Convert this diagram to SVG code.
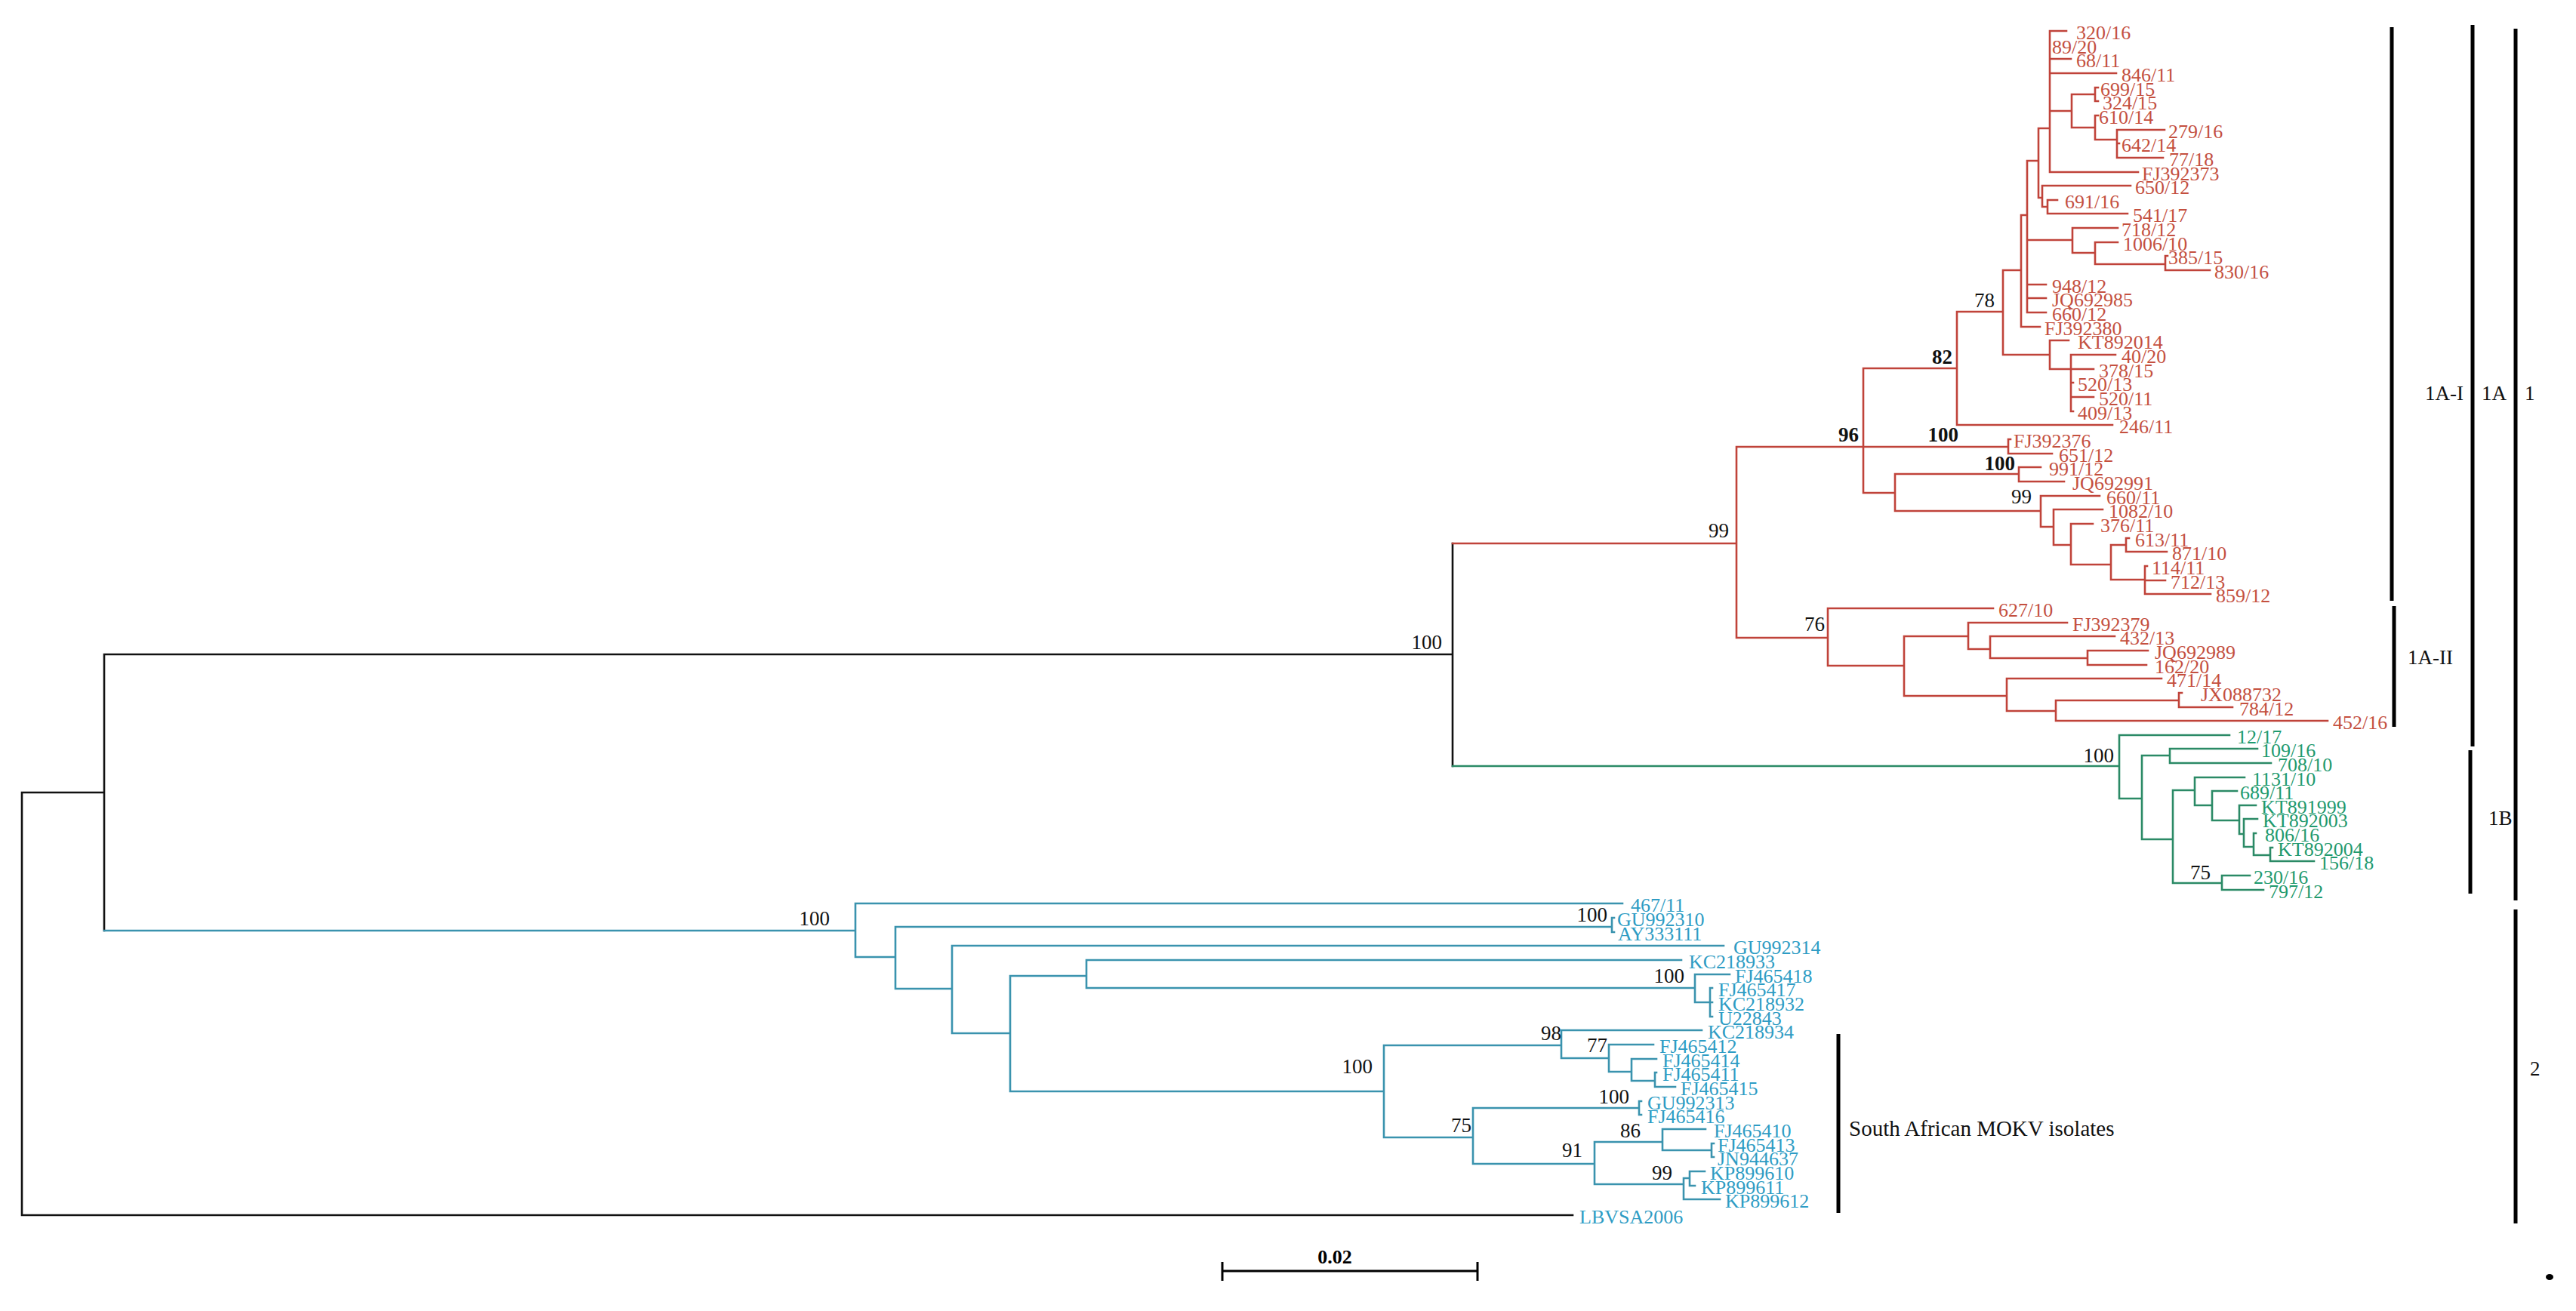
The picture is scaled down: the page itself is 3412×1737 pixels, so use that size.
<svg xmlns="http://www.w3.org/2000/svg" width="3412" height="1737" viewBox="0 0 3412 1737">
<style>
text{font-family:"Liberation Serif","Times New Roman",serif;font-size:26px}
.r{fill:#c4503f}.g{fill:#1f9a6e}.b{fill:#2e9cc4}
.bs{font-size:27px;fill:#111;text-anchor:end}
.bd{font-weight:bold}
.k{font-size:27px;fill:#111}
.ln{fill:none;stroke-width:2.6;stroke-linecap:square}
.br{fill:none;stroke:#000;stroke-width:5}
</style>
<rect width="3412" height="1737" fill="#fff"/>
<g id="connectors">
<path class="ln" stroke="#111" d="M29,1050V1610M29,1610H2083M29,1050H138M138,867V1233M138,867H1924M1924,720V1015"/>
<path class="ln" stroke="#c0433a" d="M1924,720H2300M2300,592V845M2300,592H2468M2300,845H2421
M2468,488V653M2468,488H2592M2468,592H2660M2468,653H2510
M2592,413V563M2592,413H2653M2592,563H2798
M2653,358V470M2653,358H2677M2653,470H2715
M2677,285V433M2677,285H2685M2677,433H2702
M2685,213V414M2685,213H2700M2685,318H2745M2685,377H2710M2685,395H2710M2685,414H2710
M2700,170V262M2700,170H2715M2700,262H2705
M2715,41V228M2715,41H2737M2715,78H2743M2715,97H2803M2715,147H2744M2715,228H2832
M2744,125V169M2744,125H2775M2744,169H2775
M2775,116V134M2775,116H2779M2775,134H2779
M2775,153V185M2775,153H2779M2775,185H2804
M2804,172V209M2804,172H2867M2804,190H2807M2804,209H2865
M2705,246V274M2705,246H2822M2705,274H2712
M2712,265V283M2712,265H2725M2712,283H2818
M2745,302V335M2745,302H2805M2745,335H2775
M2775,321V350M2775,321H2805M2775,350H2868
M2868,339V358M2868,339H2871M2868,358H2927
M2715,451V489M2715,451H2740M2715,489H2743
M2743,470V545M2743,470H2802M2743,489H2773M2743,507H2746M2743,526H2773M2743,545H2746
M2660,582V601M2660,582H2663M2660,601H2718
M2510,628V677M2510,628H2674M2510,677H2703
M2674,619V638M2674,619H2703M2674,638H2734
M2703,657V698M2703,657H2781M2703,698H2720
M2720,675V722M2720,675H2785M2720,722H2743
M2743,694V748M2743,694H2772M2743,748H2796
M2796,722V768M2796,722H2816M2796,768H2841
M2816,713V731M2816,713H2820M2816,731H2870
M2841,750V787M2841,750H2844M2841,769H2868M2841,787H2928
M2421,806V882M2421,806H2640M2421,882H2522
M2522,843V922M2522,843H2607M2522,922H2658
M2607,825V860M2607,825H2738M2607,860H2636
M2636,843V872M2636,843H2801M2636,872H2765
M2765,862V881M2765,862H2845M2765,881H2843
M2658,899V942M2658,899H2863M2658,942H2723
M2723,928V955M2723,928H2886M2723,955H3083
M2886,918V937M2886,918H2890M2886,937H2957"/>
<path class="ln" stroke="#2b8a66" d="M1924,1015H2807M2807,974V1058M2807,974H2953M2807,1058H2837
M2837,1001V1112M2837,1001H2874M2874,992V1011M2874,992H2990M2874,1011H3008
M2837,1112H2878M2878,1047V1170M2878,1047H2907
M2907,1030V1067M2907,1030H2973M2907,1067H2930
M2930,1048V1087M2930,1048H2963M2930,1087H2966
M2966,1067V1105M2966,1067H2988M2966,1105H2972
M2972,1085V1122M2972,1085H2990M2972,1122H2985
M2985,1104V1133M2985,1104H2988M2985,1133H3007
M3007,1123V1141M3007,1123H3010M3007,1141H3065
M2878,1170H2943M2943,1160V1179M2943,1160H2980M2943,1179H2998"/>
<path class="ln" stroke="#3a93ae" d="M138,1233H1133M1133,1197V1268M1133,1197H2149M1133,1268H1186
M1186,1228V1310M1186,1228H2135M2135,1216V1235M2135,1216H2138M2135,1235H2138
M1186,1310H1261M1261,1253V1369M1261,1253H2283M1261,1369H1338
M1338,1293V1446M1338,1293H1439M1439,1272V1309M1439,1272H2227M1439,1309H2245
M2245,1291V1328M2245,1291H2291M2245,1328H2265
M2265,1309V1347M2265,1309H2268M2265,1328H2268M2265,1347H2268
M1338,1446H1833M1833,1385V1507M1833,1385H2068
M2068,1365V1402M2068,1365H2254M2068,1402H2131
M2131,1384V1420M2131,1384H2190M2131,1420H2161
M2161,1403V1432M2161,1403H2194M2161,1432H2192
M2192,1421V1440M2192,1421H2194M2192,1440H2219
M1833,1507H1951M1951,1468V1542M1951,1468H2171
M2171,1459V1477M2171,1459H2174M2171,1477H2174
M1951,1542H2112M2112,1513V1569M2112,1513H2202
M2202,1496V1524M2202,1496H2259M2202,1524H2267
M2267,1515V1533M2267,1515H2270M2267,1533H2270
M2112,1569H2230M2230,1561V1589M2230,1561H2238
M2238,1552V1571M2238,1552H2258M2238,1571H2245M2230,1589H2278"/>
</g>
<g id="brackets">
<path class="br" d="M3168,36V796M3171,803V963M3275,33V989M3272,994V1184M3332,38V1193M3332,1205V1621M2435,1370V1607"/>
<text id="lbl-1A-I" class="k" x="3212" y="530">1A-I</text>
<text id="lbl-1A" class="k" x="3287" y="530">1A</text>
<text id="lbl-1" class="k" x="3344" y="530">1</text>
<text id="lbl-1A-II" class="k" x="3189" y="880">1A-II</text>
<text id="lbl-1B" class="k" x="3296" y="1093">1B</text>
<text id="lbl-2" class="k" x="3351" y="1425">2</text>
<text id="lbl-mokv" x="2449" y="1505" style="font-size:29px;fill:#111">South African MOKV isolates</text>
</g>
<g id="scale">
<path fill="none" stroke="#000" stroke-width="3" d="M1619,1684H1957M1619,1672V1697M1957,1672V1697"/>
<text x="1768" y="1674" text-anchor="middle" style="font-size:26px;font-weight:bold">0.02</text>
<ellipse cx="3377" cy="1692" rx="5" ry="4" fill="#000"/>
</g>
<g id="bootstrap">
<text class="bs" x="1910" y="860">100</text>
<text class="bs" x="2290" y="712">99</text>
<text class="bs bd" x="2462" y="585">96</text>
<text class="bs bd" x="2594" y="585">100</text>
<text class="bs bd" x="2586" y="482">82</text>
<text class="bs" x="2642" y="407">78</text>
<text class="bs bd" x="2669" y="623">100</text>
<text class="bs" x="2691" y="667">99</text>
<text class="bs" x="2417" y="836">76</text>
<text class="bs" x="2800" y="1010">100</text>
<text class="bs" x="2928" y="1165">75</text>
<text class="bs" x="1099" y="1226">100</text>
<text class="bs" x="2129" y="1221">100</text>
<text class="bs" x="2231" y="1302">100</text>
<text class="bs" x="1818" y="1422">100</text>
<text class="bs" x="2068" y="1378">98</text>
<text class="bs" x="2129" y="1394">77</text>
<text class="bs" x="2158" y="1462">100</text>
<text class="bs" x="1949" y="1500">75</text>
<text class="bs" x="2096" y="1533">91</text>
<text class="bs" x="2173" y="1507">86</text>
<text class="bs" x="2215" y="1563">99</text>
</g>
<g id="clade-1A" class="r">
<g id="n-320-16"><text x="2750" y="52">320/16</text></g>
<g id="n-89-20"><text x="2718" y="71">89/20</text></g>
<g id="n-68-11"><text x="2750" y="89">68/11</text></g>
<g id="n-846-11"><text x="2810" y="108">846/11</text></g>
<g id="n-699-15"><text x="2782" y="127">699/15</text></g>
<g id="n-324-15"><text x="2785" y="145">324/15</text></g>
<g id="n-610-14"><text x="2780" y="164">610/14</text></g>
<g id="n-279-16"><text x="2872" y="183">279/16</text></g>
<g id="n-642-14"><text x="2810" y="201">642/14</text></g>
<g id="n-77-18"><text x="2873" y="220">77/18</text></g>
<g id="n-FJ392373"><text x="2837" y="239">FJ392373</text></g>
<g id="n-650-12"><text x="2828" y="257">650/12</text></g>
<g id="n-691-16"><text x="2735" y="276">691/16</text></g>
<g id="n-541-17"><text x="2825" y="294">541/17</text></g>
<g id="n-718-12"><text x="2810" y="313">718/12</text></g>
<g id="n-1006-10"><text x="2812" y="332">1006/10</text></g>
<g id="n-385-15"><text x="2872" y="350">385/15</text></g>
<g id="n-830-16"><text x="2933" y="369">830/16</text></g>
<g id="n-948-12"><text x="2718" y="388">948/12</text></g>
<g id="n-JQ692985"><text x="2718" y="406">JQ692985</text></g>
<g id="n-660-12"><text x="2718" y="425">660/12</text></g>
<g id="n-FJ392380"><text x="2708" y="444">FJ392380</text></g>
<g id="n-KT892014"><text x="2752" y="462">KT892014</text></g>
<g id="n-40-20"><text x="2810" y="481">40/20</text></g>
<g id="n-378-15"><text x="2780" y="500">378/15</text></g>
<g id="n-520-13"><text x="2752" y="518">520/13</text></g>
<g id="n-520-11"><text x="2780" y="537">520/11</text></g>
<g id="n-409-13"><text x="2752" y="556">409/13</text></g>
<g id="n-246-11"><text x="2807" y="574">246/11</text></g>
<g id="n-FJ392376"><text x="2667" y="593">FJ392376</text></g>
<g id="n-651-12"><text x="2727" y="612">651/12</text></g>
<g id="n-991-12"><text x="2714" y="630">991/12</text></g>
<g id="n-JQ692991"><text x="2745" y="649">JQ692991</text></g>
<g id="n-660-11"><text x="2790" y="668">660/11</text></g>
<g id="n-1082-10"><text x="2793" y="686">1082/10</text></g>
<g id="n-376-11"><text x="2782" y="705">376/11</text></g>
<g id="n-613-11"><text x="2828" y="724">613/11</text></g>
<g id="n-871-10"><text x="2877" y="742">871/10</text></g>
<g id="n-114-11"><text x="2850" y="761">114/11</text></g>
<g id="n-712-13"><text x="2875" y="780">712/13</text></g>
<g id="n-859-12"><text x="2935" y="798">859/12</text></g>
<g id="n-627-10"><text x="2647" y="817">627/10</text></g>
<g id="n-FJ392379"><text x="2745" y="836">FJ392379</text></g>
<g id="n-432-13"><text x="2808" y="854">432/13</text></g>
<g id="n-JQ692989"><text x="2854" y="873">JQ692989</text></g>
<g id="n-162-20"><text x="2854" y="892">162/20</text></g>
<g id="n-471-14"><text x="2870" y="910">471/14</text></g>
<g id="n-JX088732"><text x="2915" y="929">JX088732</text></g>
<g id="n-784-12"><text x="2966" y="948">784/12</text></g>
<g id="n-452-16"><text x="3090" y="966">452/16</text></g>
</g>
<g id="clade-1B" class="g">
<g id="n-12-17"><text x="2963" y="985">12/17</text></g>
<g id="n-109-16"><text x="2995" y="1003">109/16</text></g>
<g id="n-708-10"><text x="3017" y="1022">708/10</text></g>
<g id="n-1131-10"><text x="2983" y="1041">1131/10</text></g>
<g id="n-689-11"><text x="2967" y="1059">689/11</text></g>
<g id="n-KT891999"><text x="2995" y="1078">KT891999</text></g>
<g id="n-KT892003"><text x="2997" y="1096">KT892003</text></g>
<g id="n-806-16"><text x="3000" y="1115">806/16</text></g>
<g id="n-KT892004"><text x="3017" y="1134">KT892004</text></g>
<g id="n-156-18"><text x="3072" y="1152">156/18</text></g>
<g id="n-230-16"><text x="2985" y="1171">230/16</text></g>
<g id="n-797-12"><text x="3005" y="1190">797/12</text></g>
</g>
<g id="clade-2" class="b">
<g id="n-467-11"><text x="2160" y="1208">467/11</text></g>
<g id="n-GU992310"><text x="2142" y="1227">GU992310</text></g>
<g id="n-AY333111"><text x="2143" y="1246">AY333111</text></g>
<g id="n-GU992314"><text x="2296" y="1264">GU992314</text></g>
<g id="n-KC218933"><text x="2237" y="1283">KC218933</text></g>
<g id="n-FJ465418"><text x="2298" y="1302">FJ465418</text></g>
<g id="n-FJ465417"><text x="2276" y="1320">FJ465417</text></g>
<g id="n-KC218932"><text x="2276" y="1339">KC218932</text></g>
<g id="n-U22843"><text x="2276" y="1358">U22843</text></g>
<g id="n-KC218934"><text x="2262" y="1376">KC218934</text></g>
<g id="n-FJ465412"><text x="2198" y="1395">FJ465412</text></g>
<g id="n-FJ465414"><text x="2202" y="1414">FJ465414</text></g>
<g id="n-FJ465411"><text x="2202" y="1432">FJ465411</text></g>
<g id="n-FJ465415"><text x="2226" y="1451">FJ465415</text></g>
<g id="n-GU992313"><text x="2182" y="1470">GU992313</text></g>
<g id="n-FJ465416"><text x="2182" y="1488">FJ465416</text></g>
<g id="n-FJ465410"><text x="2270" y="1507">FJ465410</text></g>
<g id="n-FJ465413"><text x="2275" y="1526">FJ465413</text></g>
<g id="n-JN944637"><text x="2275" y="1544">JN944637</text></g>
<g id="n-KP899610"><text x="2265" y="1563">KP899610</text></g>
<g id="n-KP899611"><text x="2253" y="1582">KP899611</text></g>
<g id="n-KP899612"><text x="2285" y="1600">KP899612</text></g>
<g id="n-LBVSA2006"><text x="2092" y="1621">LBVSA2006</text></g>
</g>
</svg>
